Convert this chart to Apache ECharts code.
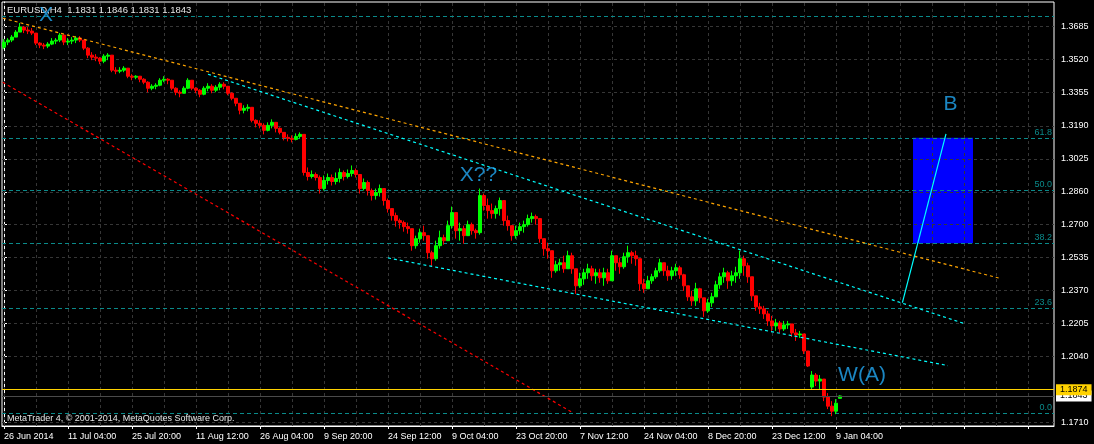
<!DOCTYPE html>
<html><head><meta charset="utf-8">
<script src="https://cdn.jsdelivr.net/npm/echarts@6/dist/echarts.min.js"></script>
<style>html,body{margin:0;padding:0;background:#000;overflow:hidden}#c{width:1094px;height:444px}</style>
</head><body><div id="c"></div>
<script>
// ---------- data ----------
const symbolName = 'EURUSD,H4';
const timeLabels = ['26 Jun 2014','11 Jul 04:00','25 Jul 20:00','11 Aug 12:00','26 Aug 04:00','9 Sep 20:00','24 Sep 12:00','9 Oct 04:00','23 Oct 20:00','7 Nov 12:00','24 Nov 04:00','8 Dec 20:00','23 Dec 12:00','9 Jan 04:00'];
const priceTicks = [1.1710,1.2040,1.2205,1.2370,1.2535,1.2700,1.2860,1.3025,1.3190,1.3355,1.3520,1.3685];
// [open, close, low, high]
const candles = [
[1.3582,1.3607,1.3572,1.3622],[1.3607,1.3617,1.3592,1.3627],[1.3617,1.3632,1.3607,1.3642],[1.3632,1.3657,1.3632,1.3667],
[1.3657,1.3682,1.3657,1.3702],[1.3682,1.3667,1.3652,1.3687],[1.3667,1.3662,1.3647,1.3682],[1.3662,1.3652,1.3642,1.3677],
[1.3652,1.3602,1.3592,1.3652],[1.3602,1.3592,1.3577,1.3607],[1.3592,1.3587,1.3572,1.3602],[1.3587,1.3597,1.3577,1.3607],
[1.3597,1.3612,1.3592,1.3627],[1.3612,1.3617,1.3597,1.3627],[1.3617,1.3642,1.3607,1.3652],[1.3642,1.3607,1.3592,1.3642],
[1.3607,1.3612,1.3592,1.3627],[1.3612,1.3617,1.3597,1.3632],[1.3617,1.3627,1.3602,1.3637],[1.3627,1.3617,1.3607,1.3637],
[1.3617,1.3577,1.3567,1.3617],[1.3577,1.3542,1.3527,1.3582],[1.3542,1.3532,1.3517,1.3557],[1.3532,1.3527,1.3512,1.3547],
[1.3527,1.3512,1.3497,1.3532],[1.3512,1.3537,1.3502,1.3547],[1.3537,1.3542,1.3517,1.3552],[1.3542,1.3467,1.3457,1.3542],
[1.3467,1.3462,1.3447,1.3482],[1.3462,1.3467,1.3452,1.3482],[1.3467,1.3477,1.3457,1.3487],[1.3477,1.3437,1.3427,1.3477],
[1.3437,1.3432,1.3417,1.3447],[1.3432,1.3437,1.3422,1.3442],[1.3437,1.3422,1.3407,1.3437],[1.3422,1.3407,1.3397,1.3427],
[1.3407,1.3377,1.3357,1.3412],[1.3377,1.3387,1.3367,1.3397],[1.3387,1.3392,1.3372,1.3402],[1.3392,1.3417,1.3387,1.3427],
[1.3417,1.3422,1.3407,1.3437],[1.3422,1.3417,1.3397,1.3427],[1.3417,1.3377,1.3367,1.3417],[1.3377,1.3357,1.3342,1.3382],
[1.3357,1.3352,1.3332,1.3367],[1.3352,1.3377,1.3352,1.3387],[1.3377,1.3417,1.3372,1.3427],[1.3417,1.3377,1.3367,1.3417],
[1.3377,1.3367,1.3352,1.3382],[1.3367,1.3347,1.3332,1.3372],[1.3347,1.3377,1.3342,1.3387],[1.3377,1.3387,1.3362,1.3402],
[1.3387,1.3367,1.3352,1.3397],[1.3367,1.3382,1.3357,1.3392],[1.3382,1.3397,1.3367,1.3407],[1.3397,1.3387,1.3372,1.3407],
[1.3387,1.3352,1.3342,1.3387],[1.3352,1.3327,1.3317,1.3357],[1.3327,1.3302,1.3287,1.3327],[1.3302,1.3267,1.3247,1.3302],
[1.3267,1.3277,1.3252,1.3292],[1.3277,1.3282,1.3262,1.3297],[1.3282,1.3217,1.3207,1.3282],[1.3217,1.3202,1.3182,1.3222],
[1.3202,1.3192,1.3177,1.3217],[1.3192,1.3167,1.3147,1.3202],[1.3167,1.3192,1.3162,1.3207],[1.3192,1.3207,1.3177,1.3222],
[1.3207,1.3177,1.3157,1.3207],[1.3177,1.3157,1.3147,1.3182],[1.3157,1.3132,1.3117,1.3157],[1.3132,1.3127,1.3112,1.3147],
[1.3127,1.3122,1.3107,1.3142],[1.3122,1.3137,1.3117,1.3152],[1.3137,1.3147,1.3127,1.3157],[1.3147,1.2957,1.2942,1.3147],
[1.2957,1.2937,1.2917,1.2982],[1.2937,1.2947,1.2927,1.2967],[1.2947,1.2932,1.2917,1.2957],[1.2932,1.2877,1.2852,1.2942],
[1.2877,1.2917,1.2867,1.2942],[1.2917,1.2932,1.2897,1.2952],[1.2932,1.2912,1.2892,1.2947],[1.2912,1.2927,1.2897,1.2957],
[1.2927,1.2957,1.2907,1.2977],[1.2957,1.2937,1.2917,1.2967],[1.2937,1.2952,1.2927,1.2972],[1.2952,1.2967,1.2937,1.2992],
[1.2967,1.2947,1.2932,1.2977],[1.2947,1.2877,1.2852,1.2947],[1.2877,1.2907,1.2867,1.2927],[1.2907,1.2867,1.2842,1.2917],
[1.2867,1.2842,1.2817,1.2877],[1.2842,1.2857,1.2822,1.2877],[1.2857,1.2877,1.2837,1.2897],[1.2877,1.2817,1.2792,1.2877],
[1.2817,1.2777,1.2757,1.2827],[1.2777,1.2742,1.2717,1.2777],[1.2742,1.2717,1.2687,1.2757],[1.2717,1.2707,1.2677,1.2727],
[1.2707,1.2687,1.2662,1.2717],[1.2687,1.2677,1.2652,1.2707],[1.2677,1.2592,1.2567,1.2677],[1.2592,1.2627,1.2577,1.2642],
[1.2627,1.2657,1.2607,1.2677],[1.2657,1.2642,1.2617,1.2692],[1.2642,1.2557,1.2527,1.2642],[1.2557,1.2527,1.2492,1.2567],
[1.2527,1.2592,1.2517,1.2617],[1.2592,1.2632,1.2577,1.2667],[1.2632,1.2617,1.2597,1.2647],[1.2617,1.2692,1.2617,1.2717],
[1.2692,1.2757,1.2677,1.2787],[1.2757,1.2667,1.2627,1.2757],[1.2667,1.2677,1.2617,1.2707],[1.2677,1.2642,1.2602,1.2692],
[1.2642,1.2697,1.2642,1.2717],[1.2697,1.2667,1.2647,1.2707],[1.2667,1.2657,1.2627,1.2677],[1.2657,1.2842,1.2647,1.2877],
[1.2842,1.2792,1.2767,1.2852],[1.2792,1.2767,1.2727,1.2827],[1.2767,1.2752,1.2727,1.2802],[1.2752,1.2777,1.2727,1.2792],
[1.2777,1.2817,1.2742,1.2832],[1.2817,1.2717,1.2692,1.2817],[1.2717,1.2692,1.2667,1.2742],[1.2692,1.2642,1.2617,1.2692],
[1.2642,1.2667,1.2627,1.2692],[1.2667,1.2687,1.2647,1.2707],[1.2687,1.2697,1.2657,1.2717],[1.2697,1.2727,1.2687,1.2747],
[1.2727,1.2737,1.2707,1.2757],[1.2737,1.2727,1.2697,1.2747],[1.2727,1.2627,1.2607,1.2727],[1.2627,1.2577,1.2542,1.2627],
[1.2577,1.2567,1.2527,1.2607],[1.2567,1.2467,1.2432,1.2567],[1.2467,1.2497,1.2457,1.2517],[1.2497,1.2507,1.2467,1.2527],
[1.2507,1.2477,1.2457,1.2542],[1.2477,1.2542,1.2477,1.2567],[1.2542,1.2477,1.2452,1.2557],[1.2477,1.2392,1.2352,1.2477],
[1.2392,1.2427,1.2382,1.2457],[1.2427,1.2457,1.2397,1.2477],[1.2457,1.2477,1.2427,1.2502],[1.2477,1.2442,1.2417,1.2492],
[1.2442,1.2457,1.2402,1.2477],[1.2457,1.2432,1.2407,1.2477],[1.2432,1.2457,1.2392,1.2482],[1.2457,1.2417,1.2402,1.2477],
[1.2417,1.2542,1.2417,1.2567],[1.2542,1.2507,1.2467,1.2542],[1.2507,1.2487,1.2452,1.2532],[1.2487,1.2537,1.2477,1.2557],
[1.2537,1.2557,1.2507,1.2592],[1.2557,1.2542,1.2502,1.2567],[1.2542,1.2527,1.2492,1.2567],[1.2527,1.2402,1.2367,1.2527],
[1.2402,1.2377,1.2357,1.2427],[1.2377,1.2417,1.2377,1.2442],[1.2417,1.2437,1.2402,1.2452],[1.2437,1.2467,1.2427,1.2482],
[1.2467,1.2507,1.2457,1.2527],[1.2507,1.2467,1.2442,1.2507],[1.2467,1.2442,1.2417,1.2492],[1.2442,1.2467,1.2422,1.2487],
[1.2467,1.2482,1.2442,1.2502],[1.2482,1.2447,1.2427,1.2492],[1.2447,1.2392,1.2367,1.2452],[1.2392,1.2337,1.2317,1.2392],
[1.2337,1.2317,1.2292,1.2367],[1.2317,1.2377,1.2292,1.2407],[1.2377,1.2332,1.2307,1.2382],[1.2332,1.2267,1.2237,1.2332],
[1.2267,1.2307,1.2257,1.2327],[1.2307,1.2337,1.2287,1.2357],[1.2337,1.2397,1.2337,1.2417],[1.2397,1.2437,1.2377,1.2457],
[1.2437,1.2457,1.2407,1.2482],[1.2457,1.2417,1.2377,1.2467],[1.2417,1.2442,1.2392,1.2467],[1.2442,1.2457,1.2407,1.2487],
[1.2457,1.2527,1.2427,1.2567],[1.2527,1.2492,1.2442,1.2542],[1.2492,1.2437,1.2407,1.2507],[1.2437,1.2342,1.2317,1.2437],
[1.2342,1.2287,1.2267,1.2342],[1.2287,1.2277,1.2252,1.2307],[1.2277,1.2252,1.2227,1.2292],[1.2252,1.2217,1.2192,1.2267],
[1.2217,1.2192,1.2167,1.2242],[1.2192,1.2207,1.2167,1.2227],[1.2207,1.2177,1.2157,1.2217],[1.2177,1.2197,1.2167,1.2217],
[1.2197,1.2202,1.2177,1.2217],[1.2202,1.2157,1.2137,1.2202],[1.2157,1.2147,1.2117,1.2177],[1.2147,1.2152,1.2132,1.2167],
[1.2152,1.2067,1.2052,1.2152],[1.2067,1.1992,1.1987,1.2067],[1.1887,1.1947,1.1877,1.1967],[1.1947,1.1917,1.1892,1.1957],
[1.1917,1.1927,1.1877,1.1947],[1.1927,1.1837,1.1817,1.1927],[1.1837,1.1792,1.1777,1.1857],[1.1792,1.1767,1.1742,1.1817],
[1.1767,1.1807,1.1752,1.1827],[1.1831,1.1843,1.1831,1.1846]
];
const fibLevels = ['0.0','23.6','38.2','50.0','61.8'];
const fibPrices = [1.1758,1.2282,1.2606,1.2868,1.3130];
const topLevelPrice = 1.3734;
const markedPrice = 1.1874;
const bidPrice = 1.1843;
// trend lines: [barIndex, price] endpoints
const orangeTrend = [[-0.25,1.3726],[249,1.2429]];
const upperChannel = [[51,1.3447],[240,1.2204]];
const lowerChannel = [[96,1.2531],[236,1.1994]];
const redTrend = [[-0.33,1.3407],[142.25,1.1759]];
const legB = [[224.6,1.2308],[235.5,1.3149]];
const targetBox = [[227.25,1.3130],[242.25,1.2604]];
const waveLabels = [['X',10.5,1.3740],['X??',118.6,1.2945],['W(A)',214.5,1.1947],['B',236.6,1.3298]];

// ---------- layout ----------
const nCats = 263, barsPerLabel = 16, gridStep = 8;
const FONT = 'Liberation Sans';
const cats = [];
for (let i = 0; i < nCats; i++) {
  const k = i / barsPerLabel;
  cats.push(Number.isInteger(k) && timeLabels[k] ? timeLabels[k] : '');
}
const vLines = [];
for (let v = 0; v < nCats; v += gridStep) vLines.push({xAxis: v});
const last = candles[candles.length - 1];
const title = symbolName + '  ' + [last[0], last[3], last[2], last[1]].map(v => v.toFixed(4)).join(' ');

const chart = echarts.init(document.getElementById('c'), null, {renderer: 'canvas'});
const helper = (extra) => Object.assign({type: 'line', xAxisIndex: 1, yAxisIndex: 0, data: [], silent: true, symbol: 'none'}, extra);
const trend = (pts, color, type, z) => ({type: 'line', xAxisIndex: 1, data: pts, symbol: 'none', silent: true, z: z,
  lineStyle: {color: color, width: 1.2, type: type}, animation: false});

chart.setOption({
  animation: false,
  backgroundColor: '#000',
  title: [
    {text: title, left: 7, top: 5, padding: 0, z: 1, textStyle: {color: '#e6e6e6', fontSize: 9.5, fontWeight: 'normal', fontFamily: FONT}},
    {text: 'MetaTrader 4, \u00a9 2001-2014, MetaQuotes Software Corp.', left: 7, top: 414, padding: 0, z: 1,
     textStyle: {color: '#e6e6e6', fontSize: 9, fontWeight: 'normal', fontFamily: FONT}}
  ],
  grid: {left: 2, right: 40, top: 2, bottom: 18, show: true, borderColor: '#fff', borderWidth: 1, backgroundColor: '#000'},
  xAxis: [
    {type: 'category', data: cats, boundaryGap: true,
     axisLine: {show: true, lineStyle: {color: '#fff'}},
     axisTick: {show: true, alignWithLabel: true, interval: barsPerLabel - 1, length: 3, lineStyle: {color: '#fff'}},
     axisLabel: {interval: barsPerLabel - 1, align: 'left', color: '#fff', fontSize: 9, fontFamily: FONT, margin: 6},
     splitLine: {show: false}},
    {type: 'value', min: -0.5, max: nCats - 0.5, show: false, splitLine: {show: false}}
  ],
  yAxis: {type: 'value', position: 'right', min: 1.1693, max: 1.3807,
    axisLine: {show: true, lineStyle: {color: '#fff'}},
    axisTick: {show: true, customValues: priceTicks, length: 3, lineStyle: {color: '#fff'}},
    axisLabel: {customValues: priceTicks, formatter: v => v.toFixed(4), color: '#fff', fontSize: 9, fontFamily: FONT, margin: 7},
    splitLine: {show: false}},
  series: [
    helper({name: 'box', markArea: {silent: true, z: 0.5, itemStyle: {color: '#0000ff'},
      data: [[{coord: targetBox[0]}, {coord: targetBox[1]}]]}}),
    helper({name: 'grid', markLine: {silent: true, z: 1, precision: 5, symbol: ['none', 'none'], label: {show: false},
      lineStyle: {color: '#363636', type: [3, 3], width: 1},
      data: priceTicks.map(v => ({yAxis: v})).concat(vLines)}}),
    helper({name: 'fibo', markLine: {silent: true, z: 1.5, precision: 5, symbol: ['none', 'none'],
      lineStyle: {color: '#0a8a8a', type: [4, 3], width: 1},
      data: fibPrices.map((p, i) => ({yAxis: p, label: {show: true, position: 'insideEndTop', formatter: fibLevels[i],
        color: '#0a8a8a', fontSize: 9, fontFamily: FONT, distance: 1, padding: [0, 1, 0, 0]}}))
        .concat([{yAxis: topLevelPrice, label: {show: false}}])}}),
    {type: 'candlestick', xAxisIndex: 0, yAxisIndex: 0, data: candles, barWidth: 4, z: 2, silent: true,
     itemStyle: {color: '#00ff00', color0: '#ff0000', borderColor: '#00ff00', borderColor0: '#ff0000', borderWidth: 1}},
    trend(orangeTrend, '#ffa500', [3, 3], 3),
    trend(upperChannel, '#00ffff', [3, 3], 3),
    trend(lowerChannel, '#00ffff', [3, 3], 3),
    trend(redTrend, '#ff0000', [3, 3], 3),
    trend(legB, '#00ffff', 'solid', 3),
    helper({name: 'bid', markLine: {silent: true, z: 4, precision: 5, symbol: ['none', 'none'],
      lineStyle: {color: '#4a4a4a', type: 'solid', width: 1},
      data: [{yAxis: bidPrice, label: {show: true, position: 'end', distance: 2, formatter: bidPrice.toFixed(4),
        backgroundColor: '#fff', color: '#000', fontSize: 9, fontFamily: FONT, padding: [1, 4, 1, 4]}}]}}),
    helper({name: 'marked', markLine: {silent: true, z: 5, precision: 5, symbol: ['none', 'none'],
      lineStyle: {color: '#ffd200', type: 'solid', width: 1},
      data: [{yAxis: markedPrice, label: {show: true, position: 'end', distance: 2, formatter: markedPrice.toFixed(4),
        backgroundColor: '#ffd200', color: '#000', fontSize: 9, fontFamily: FONT, padding: [1, 4, 1, 4]}}]}}),
    {type: 'scatter', xAxisIndex: 1, yAxisIndex: 0, silent: true, z: 6, symbolSize: 1,
     itemStyle: {color: 'rgba(0,0,0,0)'},
     data: waveLabels.map(w => [w[1], w[2], w[0]]),
     label: {show: true, position: 'inside', formatter: p => p.value[2], color: '#22a8f2', fontSize: 21, fontFamily: FONT}}
  ]
});
</script></body></html>
